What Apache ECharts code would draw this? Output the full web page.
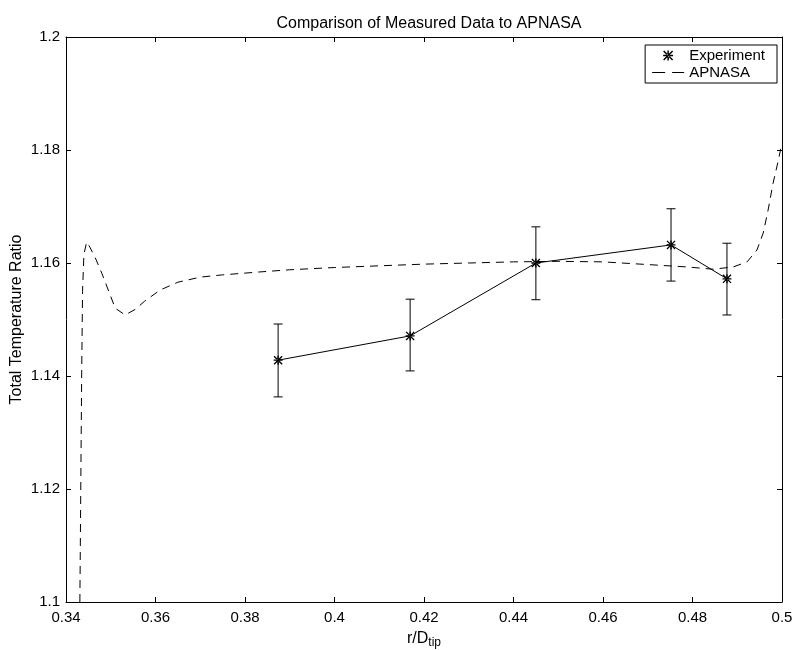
<!DOCTYPE html>
<html>
<head>
<meta charset="utf-8">
<script src="https://cdn.jsdelivr.net/npm/echarts@6/dist/echarts.min.js"></script>
<style>
html,body{margin:0;padding:0;background:#fff;}
#chart{width:793px;height:650px;}
</style>
</head>
<body>
<div id="chart"></div>
<script>
// ---- data ----
var expX = [0.3874, 0.4169, 0.4450, 0.4752, 0.4877];
var expY = [1.1428, 1.1471, 1.1600, 1.1632, 1.1572];
var expLow = [1.1363, 1.1409, 1.1535, 1.1568, 1.1508];
var expHigh = [1.1492, 1.1536, 1.1664, 1.1696, 1.1635];

var apnasaX = [0.3431, 0.3433, 0.3435, 0.3437, 0.3440, 0.3446, 0.3452, 0.3465, 0.3480, 0.3510,
  0.3532, 0.3555, 0.3575, 0.3610, 0.3650, 0.3700, 0.3750, 0.3830, 0.3900, 0.4000,
  0.4100, 0.4200, 0.4300, 0.4400, 0.4500, 0.4600, 0.4705, 0.4788, 0.4846, 0.4891,
  0.4922, 0.4944, 0.4958, 0.4969, 0.4980, 0.4991, 0.4998];
var apnasaY = [1.1000, 1.1200, 1.1400, 1.1550, 1.1615, 1.1637, 1.1630, 1.1610, 1.1582, 1.1520,
  1.1508, 1.1518, 1.1532, 1.1552, 1.1566, 1.1575, 1.1579, 1.1584, 1.1588, 1.1592,
  1.1595, 1.1598, 1.1600, 1.1602, 1.1603, 1.1602, 1.1597, 1.1593, 1.1589, 1.1593,
  1.1602, 1.1623, 1.1653, 1.1694, 1.1741, 1.1779, 1.1805];

var xTicks = ['0.34','0.36','0.38','0.4','0.42','0.44','0.46','0.48','0.5'];
var yTicks = ['1.1','1.12','1.14','1.16','1.18','1.2'];

var titleText = 'Comparison of Measured Data to APNASA';
var seriesNames = ['Experiment', 'APNASA'];

// ---- chart ----
var FONT = '"Liberation Sans", Arial, Helvetica, sans-serif';
var star = 'path://M0 8.5H20V11.5H0Z M8.5 0H11.5V20H8.5Z M2.1 0L0 2.1L17.9 20L20 17.9Z M17.9 0L20 2.1L2.1 20L0 17.9Z';
var dashIcon = 'path://M0 0H13V1H0Z M20 0H32V1H20Z';

function pairs(xs, ys){ return xs.map(function(x,i){ return [x, ys[i]]; }); }
function fmt(v){ return String(Math.round(v*100)/100); }

var xMin = parseFloat(xTicks[0]), xMax = parseFloat(xTicks[xTicks.length-1]);
var yMin = parseFloat(yTicks[0]), yMax = parseFloat(yTicks[yTicks.length-1]);

var baseX = {
  type:'value', min:xMin, max:xMax, interval:0.02,
  axisLine:{show:true, onZero:false, lineStyle:{color:'#000', width:1}},
  axisTick:{show:true, inside:true, length:5, lineStyle:{color:'#000'}},
  splitLine:{show:false}
};
var baseY = {
  type:'value', min:yMin, max:yMax, interval:0.02,
  axisLine:{show:true, onZero:false, lineStyle:{color:'#000', width:1}},
  axisTick:{show:true, inside:true, length:5, lineStyle:{color:'#000'}},
  splitLine:{show:false}
};

var errData = expX.map(function(x,i){ return [x, expLow[i], expHigh[i]]; });

var chart = echarts.init(document.getElementById('chart'), null, {renderer:'canvas'});
chart.setOption({
  backgroundColor:'#fff',
  animation:false,
  textStyle:{fontFamily:FONT},
  title:{
    text:titleText, left:424, textAlign:'center', top:11,
    textStyle:{fontSize:16, fontWeight:'normal', color:'#000', fontFamily:FONT}
  },
  grid:{left:66, right:11, top:37, bottom:48, containLabel:false, outerBoundsMode:'none'},
  legend:{
    orient:'vertical', right:16, top:45,
    backgroundColor:'#fff', borderColor:'#000', borderWidth:1,
    padding:[3,12,3,7], itemGap:2, itemWidth:32, itemHeight:10,
    textStyle:{fontSize:15, color:'#000', fontFamily:FONT},
    data:[{name:seriesNames[0], icon:star}, {name:seriesNames[1], icon:dashIcon}]
  },
  xAxis:[
    Object.assign({}, baseX, {
      position:'bottom',
      axisLabel:{show:true, color:'#000', fontSize:15, margin:8, fontFamily:FONT, formatter:fmt},
      name:'r/D{sub|tip}', nameLocation:'middle', nameGap:27, nameMoveOverlap:false,
      nameTextStyle:{color:'#000', fontSize:16, fontFamily:FONT,
        rich:{sub:{fontSize:12, verticalAlign:'bottom', padding:[8,0,0,0], color:'#000', fontFamily:FONT}}}
    }),
    Object.assign({}, baseX, {position:'top', axisLabel:{show:false}})
  ],
  yAxis:[
    Object.assign({}, baseY, {
      position:'left',
      axisLabel:{show:true, color:'#000', fontSize:15, margin:6, fontFamily:FONT, formatter:fmt},
      name:'Total Temperature Ratio', nameLocation:'middle', nameGap:41, nameRotate:90, nameMoveOverlap:false,
      nameTextStyle:{color:'#000', fontSize:16, fontFamily:FONT}
    }),
    Object.assign({}, baseY, {position:'right', axisLabel:{show:false}})
  ],
  series:[
    {
      name:seriesNames[1], type:'line', data:pairs(apnasaX, apnasaY),
      showSymbol:false, symbol:'none', smooth:false,
      lineStyle:{color:'#000', width:1, type:[8,6]},
      itemStyle:{color:'#000'}, z:2
    },
    {
      name:'errorbars', type:'custom', data:errData,
      renderItem:function(params, api){
        var x = api.value(0);
        var lo = api.coord([x, api.value(1)]);
        var hi = api.coord([x, api.value(2)]);
        var w = 4.5;
        var st = {stroke:'#000', lineWidth:1, fill:null};
        return {type:'group', children:[
          {type:'line', shape:{x1:lo[0], y1:lo[1], x2:hi[0], y2:hi[1]}, style:st},
          {type:'line', shape:{x1:lo[0]-w, y1:lo[1], x2:lo[0]+w, y2:lo[1]}, style:st},
          {type:'line', shape:{x1:hi[0]-w, y1:hi[1], x2:hi[0]+w, y2:hi[1]}, style:st}
        ]};
      },
      z:3, silent:true
    },
    {
      name:seriesNames[0], type:'line', data:pairs(expX, expY),
      symbol:star, symbolSize:9, showSymbol:true,
      lineStyle:{color:'#000', width:1, type:'solid'},
      itemStyle:{color:'#000'}, z:4
    }
  ]
});
</script>
</body>
</html>
